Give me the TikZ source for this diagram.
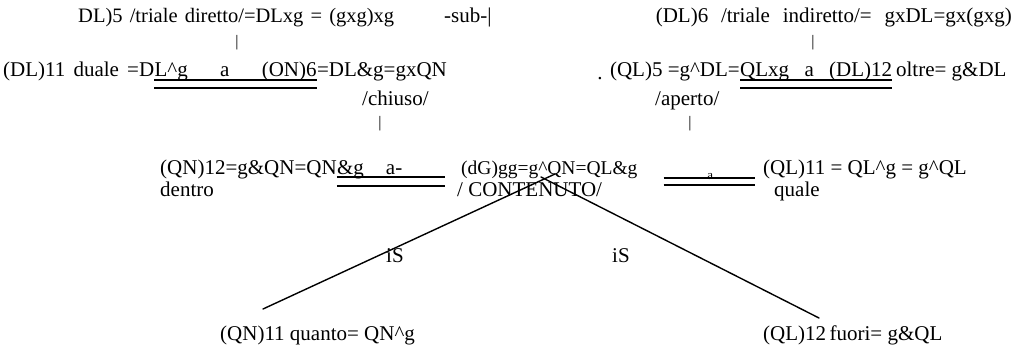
\documentclass[tikz,border=0pt]{standalone}
\usepackage{fontspec}
\setmainfont{Liberation Serif}
\usetikzlibrary{calc}
\tikzset{
    % text styles
    txt/.style={inner sep=0pt, anchor=base west, font=\fontsize{21}{24}\selectfont},
    txtsmall/.style={txt, font=\fontsize{19.5}{22}\selectfont},
    vbar/.style={inner sep=0pt, anchor=base, font=\fontsize{16}{18}\selectfont},
    smalla/.style={inner sep=0pt, anchor=base, font=\fontsize{13}{14}\selectfont},
    % line styles
    uline/.style={line width=1.1pt, draw=black},
    branch/.style={line width=1.4pt, draw=black, line cap=round}
}

\begin{document}
\begin{tikzpicture}[x=1pt, y=-1pt]
    \useasboundingbox[fill=white] (0,0) rectangle (1026,348);

    % top row
    \node[txt, font=\fontsize{20.5}{24}\selectfont] (dirL) at (78,23) {\makebox[316pt][s]{DL)5 /triale diretto/=DLxg = (gxg)xg}};
    \node[txt] (sub) at (444,23) {-sub-|};
    \node[txt, anchor=base east] (indR) at (1012,23) {\makebox[356pt][s]{(DL)6 /triale indiretto/= gxDL=gx(gxg)}};
    \node[vbar] (barA) at (237,46) {|};
    \node[vbar] (barB) at (813,46) {|};

    % second row
    \node[txt] (dualA) at (3,76) {\makebox[151pt][s]{(DL)11 duale =D}};
    \node[txt] (dualB) at (dualA.base east) {\makebox[162pt][s]{L\textasciicircum g a (ON)6}};
    \node[txt] (dualC) at (dualB.base east) {=DL\&g=gxQN};
    \draw[uline] ($(dualB.base west)+(0,4)$) -- ($(dualB.base east)+(0,4)$);
    \draw[uline] ($(dualB.base west)+(0,12)$) -- ($(dualB.base east)+(0,12)$);
    \node[txt] (chiuso) at (362,105) {/chiuso/};
    \node[vbar] (barC) at (380,127) {|};

    \node[txt, anchor=base] (dot) at (600,79) {.};

    \node[txt, anchor=base east] (oltA) at (740,76) {(QL)5 =g\textasciicircum DL=};
    \node[txt] (oltB) at (740,76) {\makebox[152pt][s]{QLxg a (DL)12}};
    \node[txt] (oltC) at (oltB.base east) {\,oltre= g\&DL};
    \draw[uline] ($(oltB.base west)+(0,4)$) -- ($(oltB.base east)+(0,4)$);
    \draw[uline] ($(oltB.base west)+(0,12)$) -- ($(oltB.base east)+(0,12)$);
    \node[txt] (aperto) at (655,105) {/aperto/};
    \node[vbar] (barD) at (690,127) {|};

    % third row
    \node[txt] (dentroA) at (160,174) {(QN)12=g\&QN=QN};
    \node[txt] (dentroB) at (dentroA.base east) {\makebox[108pt][l]{\&g\hspace{22pt}a-}};
    \node[txt] (dentroC) at (160,196) {dentro};
    \draw[uline] ($(dentroB.base west)+(0,3)$) -- ($(dentroB.base east)+(0,3)$);
    \draw[uline] ($(dentroB.base west)+(0,12)$) -- ($(dentroB.base east)+(0,12)$);

    \node[txtsmall] (cont) at (461,174) {(dG)gg=g\textasciicircum QN=QL\&g};
    \node[txt] (contB) at (457,196) {/ CONTENUTO/};

    \node[txt] (quale) at (763,174) {(QL)11 = QL\textasciicircum g = g\textasciicircum QL};
    \node[txt] (qualeB) at (774,196) {quale};
    \node[smalla] (aMid) at ($(cont.base east)!0.5!(quale.base west)+(10,5)$) {a};
    \draw[uline] ($(cont.base east)+(26,4)$) -- ($(quale.base west)+(-8,4)$);
    \draw[uline] ($(cont.base east)+(26,11)$) -- ($(quale.base west)+(-8,11)$);

    % branches
    \coordinate (topL) at (555,174);
    \coordinate (footL) at (263,309);
    \coordinate (topR) at (541,177);
    \coordinate (footR) at (819,318);
    \draw[branch] (footL) -- (topL);
    \draw[branch] (topR) -- (footR);
    \node[txt, anchor=base] (isL) at (395,262) {iS};
    \node[txt, anchor=base] (isR) at (621,262) {iS};

    % bottom row
    \node[txt] (quanto) at (220,340) {(QN)11 quanto= QN\textasciicircum g};
    \node[txt] (fuori) at (763,340) {(QL)12\,fuori= g\&QL};
\end{tikzpicture}
\end{document}
